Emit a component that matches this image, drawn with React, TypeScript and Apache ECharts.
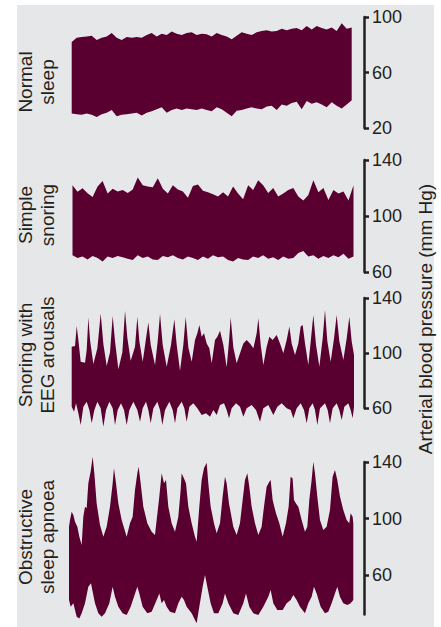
import { useEffect, useRef } from "react";
import * as echarts from "echarts";

// ---------- Data (mm Hg) ----------
// Normal sleep: upper (systolic) and lower (diastolic) envelopes, evenly spaced samples
const normalSys = [82, 85, 85.5, 86, 86.5, 83.5, 85, 86, 88.5, 85, 83.5, 85.5, 85, 85.5, 85, 87, 88.5, 86, 88, 87,
  89.5, 88, 87, 88.5, 89, 87, 88, 87.5, 86, 88.5, 87, 86, 84, 86.5, 89, 88, 87, 89, 90, 90.5,
  89.5, 90, 91.5, 90.5, 91.5, 92, 90.5, 93.5, 91, 93.5, 92, 91, 92.5, 90, 95.5, 91.5, 92.5];
const normalDia = [30.5, 30, 29.5, 30.5, 29.5, 28, 30, 31, 33, 28.5, 29.5, 30, 30.5, 31, 29, 31, 32, 33.5, 35, 31,
  33, 34, 33, 34, 33.5, 33, 34, 33, 32, 35, 33.5, 31, 28.5, 32.5, 33, 34, 35, 34, 33.5, 35.5,
  36, 33, 37, 36, 38, 39, 33.5, 39.5, 37.5, 38.5, 37, 35, 38.5, 36, 34, 37, 40];

// Simple snoring
const snoreSys = [122, 117.4, 119.8, 116.2, 113.5, 121, 125, 116, 119.5, 117.5, 118.5, 116.5, 119, 127.5, 122, 121, 120.5, 127, 119.5, 116,
  122, 119, 117.5, 113, 121.5, 122.5, 118, 117, 115.5, 114, 117, 114, 121, 116, 112, 122, 118.5, 125.5, 122, 116.5,
  120, 114, 116, 118.5, 120, 114, 111, 115, 125.5, 117, 120, 111.5, 118.5, 116, 117.5, 111, 122];
const snoreDia = [72, 70, 71, 69, 71.5, 70, 67.5, 71, 70, 71.5, 70.5, 69.5, 68.5, 72, 70, 71, 69, 68.5, 71.5, 70.5,
  72, 70, 69, 71, 70, 68.5, 71, 69.5, 72, 70.5, 71, 68.5, 67.5, 70, 69, 68.5, 71, 70, 72, 69.5,
  70.5, 68.5, 71, 69.5, 70, 73.5, 75, 71, 72, 69.5, 71.5, 70, 72, 70.5, 73, 69.5, 71];

// Snoring with EEG arousals (time in arbitrary units)
const eegUpT = [35, 45, 50, 55, 62, 75, 80, 85, 90, 100, 112, 122, 130, 140, 150, 158, 165, 175, 187, 195,
  202, 212, 225, 232, 238, 248, 258, 265, 272, 285, 293, 300, 308, 320, 333, 343, 350, 360, 370, 377,
  385, 395, 405, 412, 418, 425, 432, 440, 448, 455, 465, 472, 480, 490, 500, 507, 512, 520, 530, 540,
  550, 560, 570, 580, 590, 595, 602, 610, 620, 628, 638, 650, 660, 670, 680, 688, 695, 705, 715, 722,
  728, 735, 745, 753, 760, 768, 778, 788, 795, 802, 812, 822, 830, 838, 850, 860, 868, 875, 882];
const eegUp = [104.6, 105.1, 119.7, 109.5, 93.7, 93.0, 102.2, 125.9, 109.5, 92.0, 103.5, 128.8, 106.5, 90.6, 100.5, 126.9, 108.5, 88.1, 100.5, 130.8,
  111.0, 94.4, 104.5, 126.4, 108.5, 93.7, 110.5, 122.1, 106.0, 91.3, 108.5, 128.4, 106.0, 90.0, 106.0, 124.5, 106.0, 87.1, 106.0, 126.4,
  104.0, 93.7, 109.5, 114.3, 120.4, 111.9, 114.3, 107.0, 103.4, 92.5, 109.5, 111.9, 116.2, 105.8, 89.6, 108.5, 125.9, 104.0, 92.5, 99.8,
  107.0, 109.5, 107.0, 103.4, 114.3, 125.2, 106.0, 91.3, 104.6, 111.9, 109.5, 113.1, 107.0, 99.8, 109.5, 119.2, 107.0, 98.5, 107.0, 119.2,
  120.4, 107.0, 91.3, 110.5, 127.6, 106.0, 90.0, 110.5, 131.3, 108.5, 93.7, 110.5, 127.6, 108.5, 94.9, 110.5, 126.4, 108.5, 98.5];
const eegLoT = [35, 42, 48, 55, 62, 70, 80, 88, 95, 103, 112, 122, 130, 138, 148, 158, 165, 173, 183, 192,
  200, 208, 220, 232, 240, 248, 258, 265, 272, 280, 292, 300, 307, 315, 328, 338, 345, 352, 365, 373,
  380, 388, 400, 412, 425, 438, 450, 460, 470, 480, 492, 500, 507, 515, 528, 540, 550, 560, 575, 588,
  600, 610, 625, 640, 652, 665, 680, 692, 700, 710, 722, 732, 740, 748, 758, 765, 772, 780, 795, 803,
  810, 818, 830, 838, 845, 853, 865, 872, 878, 882];
const eegLo = [61.0, 57.3, 63.4, 56.1, 47.6, 61.0, 64.6, 58.5, 48.9, 58.5, 64.6, 59.8, 46.4, 58.5, 64.6, 59.8, 47.6, 58.5, 63.4, 58.5,
  47.6, 58.5, 64.6, 58.5, 50.0, 59.8, 64.6, 58.5, 48.9, 59.8, 64.6, 58.5, 47.6, 58.5, 64.6, 58.5, 48.9, 59.8, 64.6, 59.8,
  50.0, 61.0, 63.4, 59.8, 54.9, 56.1, 53.7, 58.5, 54.9, 62.2, 63.4, 58.5, 52.5, 59.8, 63.4, 61.0, 53.7, 59.8, 62.2, 58.5,
  50.0, 59.8, 62.2, 54.9, 61.0, 63.4, 59.8, 58.5, 52.5, 59.8, 63.4, 58.5, 48.9, 59.8, 63.4, 58.5, 47.6, 59.8, 63.4, 58.5,
  48.9, 59.8, 63.4, 58.5, 51.3, 61.0, 63.4, 58.5, 52.5, 61.0];

// Obstructive sleep apnoea
const osaUpT = [27, 30, 35, 40, 45, 52, 58, 65, 70, 75, 80, 85, 92, 98, 103, 110, 120, 130, 140, 150,
  158, 162, 168, 175, 185, 200, 210, 218, 225, 232, 236, 242, 250, 262, 275, 285, 290, 298, 305, 312,
  318, 325, 335, 345, 355, 362, 365, 372, 378, 385, 395, 405, 410, 418, 425, 432, 440, 445, 452, 462,
  470, 480, 488, 495, 500, 507, 520, 530, 540, 548, 555, 562, 568, 575, 585, 595, 605, 612, 620, 628,
  632, 638, 648, 658, 668, 678, 686, 692, 698, 702, 708, 715, 725, 735, 742, 748, 755, 760, 765, 772,
  780, 790, 800, 810, 818, 825, 832, 840, 850, 860, 868, 872, 878, 880];
const osaUp = [94.2, 98.9, 104.8, 102.5, 97.8, 94.2, 87.1, 81.2, 101.3, 108.4, 107.2, 124.9, 133.2, 143.8, 132.0, 110.7, 95.4, 87.1, 94.2, 108.4,
  124.9, 135.5, 124.9, 110.7, 98.9, 87.1, 96.6, 101.3, 120.2, 132.0, 136.7, 124.9, 108.4, 96.6, 90.7, 88.3, 98.9, 115.5, 132.0, 124.9,
  127.3, 108.4, 96.6, 90.7, 101.3, 120.2, 132.0, 128.4, 124.9, 108.4, 96.6, 87.1, 83.6, 108.4, 127.3, 135.5, 139.5, 124.9, 108.4, 96.6,
  89.5, 96.6, 115.5, 129.6, 124.9, 110.7, 94.2, 88.3, 96.6, 113.1, 127.3, 132.0, 122.5, 108.4, 96.6, 88.3, 94.2, 108.4, 122.5, 126.1,
  127.3, 113.1, 103.7, 96.6, 87.1, 96.6, 108.4, 129.6, 128.4, 113.1, 110.7, 108.4, 98.9, 90.7, 94.2, 113.1, 127.3, 140.2, 132.0, 115.5,
  98.9, 91.9, 94.2, 106.0, 129.6, 134.3, 127.3, 115.5, 106.0, 98.9, 96.6, 103.7, 101.3, 96.6];
const osaLoT = [27, 32, 40, 50, 58, 65, 75, 85, 93, 98, 105, 115, 125, 135, 148, 158, 165, 175, 188, 200,
  212, 222, 232, 238, 248, 262, 275, 290, 298, 305, 312, 320, 330, 345, 355, 365, 372, 380, 395, 405,
  410, 418, 428, 435, 442, 452, 462, 475, 488, 495, 505, 520, 535, 550, 558, 568, 580, 595, 610, 625,
  632, 640, 652, 668, 680, 692, 700, 710, 720, 735, 745, 755, 762, 770, 782, 795, 805, 815, 825, 832,
  840, 850, 862, 872, 880];
const osaLo = [42.3, 37.6, 40.0, 30.5, 29.3, 32.9, 40.0, 51.7, 54.1, 48.2, 40.0, 32.9, 30.5, 32.9, 40.0, 51.7, 44.7, 37.6, 32.9, 31.7,
  37.6, 44.7, 51.7, 47.0, 37.6, 32.9, 34.0, 42.3, 47.0, 40.0, 42.3, 37.6, 34.0, 32.9, 40.0, 44.7, 42.3, 37.6, 32.9, 28.1,
  25.8, 37.6, 51.7, 60.0, 51.7, 40.0, 32.9, 32.9, 40.0, 47.0, 40.0, 32.9, 31.7, 40.0, 47.0, 37.6, 32.9, 31.7, 37.6, 44.7,
  49.4, 40.0, 35.2, 35.2, 40.0, 42.3, 45.8, 42.3, 37.6, 32.9, 40.0, 44.7, 51.7, 47.0, 37.6, 32.9, 34.0, 40.0, 47.0, 51.7,
  44.7, 40.0, 38.8, 40.0, 42.3];

const panelLabels = ["Normal\nsleep", "Simple\nsnoring", "Snoring with\nEEG arousals", "Obstructive\nsleep apnoea"];
const tickLabels = [[20, 60, 100], [60, 100, 140], [60, 100, 140], [60, 100, 140]];
const yRanges = [[20, 100], [60, 140], [60, 140], [32, 140]];
const yTitle = "Arterial blood pressure (mm Hg)";

const COLOR = "#5a0031";
const INK = "#231f20";
const FONT = "'Liberation Sans', Arial, Helvetica, sans-serif";

const indexT = (arr: number[]) => arr.map((_, i) => i);

const panels = [
  { upT: indexT(normalSys), up: normalSys, loT: indexT(normalDia), lo: normalDia },
  { upT: indexT(snoreSys), up: snoreSys, loT: indexT(snoreDia), lo: snoreDia },
  { upT: eegUpT, up: eegUp, loT: eegLoT, lo: eegLo },
  { upT: osaUpT, up: osaUp, loT: osaLoT, lo: osaLo },
];

// layout (pixels)
const grids = [
  { left: 71.7, width: 280, top: 17, height: 111 },
  { left: 72.5, width: 281, top: 160, height: 112 },
  { left: 71.7, width: 282.3, top: 298, height: 110 },
  { left: 69, width: 284.3, top: 462, height: 152.6 },
];
const AXIS_X = 364;
const labelCenters = [82, 215, 355, 537];

export default function App() {
  const ref = useRef<HTMLDivElement>(null);
  useEffect(() => {
    if (!ref.current) return;
    const chart = echarts.init(ref.current, undefined, { renderer: "svg" });

    const band = (p: typeof panels[number]) => (params: any, api: any) => {
      const pts: number[][] = [];
      for (let i = 0; i < p.up.length; i++) pts.push(api.coord([p.upT[i], p.up[i]]));
      for (let i = p.lo.length - 1; i >= 0; i--) pts.push(api.coord([p.loT[i], p.lo[i]]));
      return { type: "polygon", shape: { points: pts }, style: { fill: COLOR } };
    };

    const option: any = {
      animation: false,
      backgroundColor: "#ffffff",
      grid: grids.map((g) => ({ ...g, containLabel: false })),
      xAxis: panels.map((p, k) => ({
        type: "value",
        gridIndex: k,
        min: Math.min(p.upT[0], p.loT[0]),
        max: Math.max(p.upT[p.upT.length - 1], p.loT[p.loT.length - 1]),
        show: false,
      })),
      yAxis: panels.map((_, k) => ({
        type: "value",
        gridIndex: k,
        position: "right",
        offset: AXIS_X - (grids[k].left + grids[k].width),
        min: yRanges[k][0],
        max: yRanges[k][1],
        splitLine: { show: false },
        axisLine: { show: true, onZero: false, lineStyle: { color: INK, width: 2.5 } },
        axisTick: { show: true, inside: false, length: 5, lineStyle: { color: INK, width: 2.5 }, customValues: tickLabels[k] },
        axisLabel: { show: true, margin: 8, color: INK, fontSize: 18, fontFamily: FONT, customValues: tickLabels[k] },
      })),
      series: panels.map((p, k) => ({
        type: "custom",
        xAxisIndex: k,
        yAxisIndex: k,
        clip: false,
        silent: true,
        data: [[p.upT[0], p.up[0]]],
        renderItem: band(p),
      })),
      graphic: [
        { type: "rect", z: -10, silent: true, shape: { x: 17, y: 5, width: 417, height: 622 }, style: { fill: "#e6e7e8" } },
        ...panelLabels.map((t, k) => ({
          type: "text",
          x: 36,
          y: labelCenters[k],
          rotation: Math.PI / 2,
          z: 10,
          style: { text: t, textAlign: "center", textVerticalAlign: "middle", fontSize: 19, lineHeight: 22, fontFamily: FONT, fill: INK },
        })),
        {
          type: "text",
          x: 425,
          y: 319,
          rotation: Math.PI / 2,
          z: 10,
          style: { text: yTitle, textAlign: "center", textVerticalAlign: "middle", fontSize: 19, fontFamily: FONT, fill: INK },
        },
      ],
    };
    chart.setOption(option);
    return () => chart.dispose();
  }, []);
  return <div ref={ref} style={{ position: "absolute", left: 0, top: 0, width: 441, height: 627 }} />;
}
